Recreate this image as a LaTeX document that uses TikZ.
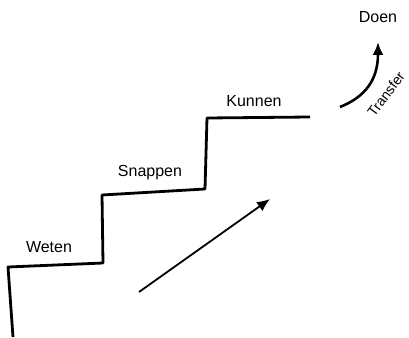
\documentclass[tikz,border=0pt]{standalone}
\usepackage{fontspec}
\setmainfont{Liberation Sans}
\usetikzlibrary{arrows.meta}

\tikzset{
  stage/.style={font=\fontsize{16}{18}\selectfont, inner sep=0pt},
  stairline/.style={line width=2.8pt, line join=round},
  push/.style={line width=1.8pt, -{Latex[length=13pt, width=11pt]}},
}

\begin{document}
\begin{tikzpicture}[x=1pt, y=-1pt]
\useasboundingbox (0, 0) rectangle (409, 337);
%Stairs
\draw[stairline] (13, 337) -- (8, 267) -- (103, 263) -- (102, 195) -- (205, 189) -- (207, 118) -- (310, 117);
%Labels
\node[stage] (weten) at (49, 247) {Weten};
\node[stage] (snappen) at (150, 173) {Snappen};
\node[stage] (kunnen) at (254, 101) {Kunnen};
\node[stage] (doen) at (378, 17) {Doen};
\node[stage, font=\fontsize{14}{16}\selectfont, rotate=53] (transfer) at (386, 94) {Transfer};
%Arrows
\coordinate (climbstart) at (139, 292);
\coordinate (climbend) at (270, 199);
\draw[push] (climbstart) -- (climbend);
\coordinate (transferstart) at (340, 107);
\coordinate (transferend) at (378, 42);
\draw[push, line width=2.6pt] (transferstart) .. controls (365, 97) and (378, 80) .. (transferend);
\end{tikzpicture}
\end{document}
